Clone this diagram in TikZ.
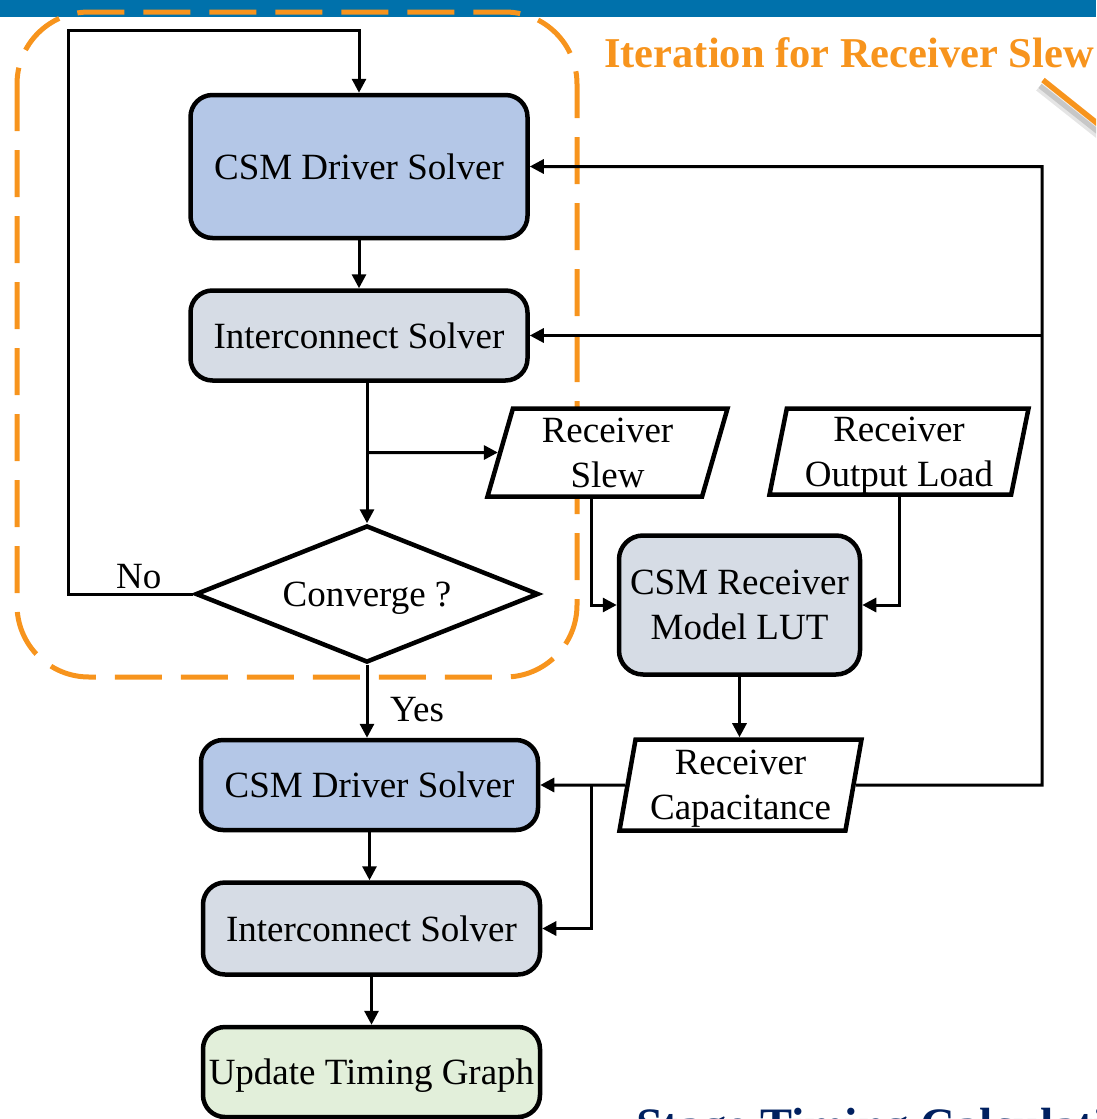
\documentclass[tikz,border=0pt]{standalone}
\usepackage{fontspec}
\setmainfont{Liberation Serif}
\usetikzlibrary{shapes.geometric,arrows.meta,calc}
\definecolor{barblue}{HTML}{0071AB}
\definecolor{iterorange}{HTML}{F7941D}
\definecolor{driverfill}{HTML}{B4C7E7}
\definecolor{solverfill}{HTML}{D6DCE5}
\definecolor{updatefill}{HTML}{E2EFDA}
\definecolor{titlenavy}{HTML}{002060}
\begin{document}
\begin{tikzpicture}[x=1pt,y=-1pt,
  every node/.style={font=\fontsize{37}{45}\selectfont, inner sep=0pt},
  block/.style={draw=black, line width=4.5pt, rounded corners=22pt,
    minimum width=337pt, align=center, text height=25pt, text depth=0pt},
  lutbox/.style={draw=black, line width=4.5pt, rounded corners=24pt, align=center},
  iobox/.style={draw=black, line width=4.5pt, trapezium, trapezium stretches body,
    fill=white, align=center},
  decision/.style={draw=black, line width=4.5pt, diamond, aspect=2.5, fill=white,
    text height=25pt, text depth=0pt},
  arr/.style={line width=3pt, -{Triangle[length=14pt,width=14pt]}},
]
\useasboundingbox (0,0) rectangle (1096,1119);
\clip (0,0) rectangle (1096,1119);

% header bar
\fill[barblue] (0,0) rectangle (1096,17);

% iteration region
\draw[iterorange, line width=5pt, dash pattern=on 47pt off 19pt, rounded corners=72pt]
  (17,12) rectangle (577,677);
\node[anchor=base west, font=\fontsize{42.5}{50}\selectfont\bfseries, text=iterorange]
  (itertitle) at (604,67) {Iteration for Receiver Slew};
\draw[black!40, opacity=0.25, line width=9pt] (1039,87) -- (1111,144);
\draw[black!50, opacity=0.3, line width=5pt] (1040,86) -- (1112,143);
\draw[iterorange, line width=5.5pt] (1043,80) -- (1115,137.6);

% solver blocks
\node[block, fill=driverfill, minimum height=143pt] (drv1) at (359,166.5) {CSM Driver Solver};
\node[block, fill=solverfill, minimum height=90pt] (ic1) at (359,335.5) {Interconnect Solver};
\node[decision, minimum width=343pt, minimum height=137pt] (conv) at (367,594) {Converge ?};

% receiver data
\node[iobox, trapezium left angle=70, trapezium right angle=110,
  minimum width=240pt, minimum height=88pt] (slew) at (607.5,452.5) {Receiver\\Slew};
\node[iobox, trapezium left angle=76, trapezium right angle=104,
  minimum width=259pt, minimum height=86pt] (oload) at (899,451.5) {Receiver\\\smash{Output Load}};
\node[lutbox, fill=solverfill, minimum width=241pt, minimum height=139pt]
  (lut) at (739.5,605) {CSM Receiver\\Model LUT};
\node[iobox, trapezium left angle=77, trapezium right angle=103,
  minimum width=242pt, minimum height=91pt] (cap) at (740.5,785) {Receiver\\\smash{Capacitance}};

% final pass
\node[block, fill=driverfill, minimum height=90pt] (drv2) at (369.5,785) {CSM Driver Solver};
\node[block, fill=solverfill, minimum height=92pt] (ic2) at (371.5,928.5) {Interconnect Solver};
\node[block, fill=updatefill, minimum height=90pt] (upd) at (371.5,1072) {Update Timing Graph};

% branch labels
\node[anchor=base west] (nolbl) at (116,588) {No};
\node[anchor=base west] (yeslbl) at (390,721) {Yes};

% connectors
\coordinate (fbcorner) at (68,30);
\draw[arr] (conv.west) -| (fbcorner) -| (drv1.north);
\draw[arr] (drv1.south) -- (ic1.north);
\draw[arr] (conv.north |- ic1.south) -- (conv.north);
\coordinate (slewtap) at (367,452.5);
\draw[arr] (slewtap) -- (slew);
\draw[arr] ([xshift=-16.5pt]slew.south) |- (lut.west);
\draw[arr] (oload.south) |- (lut.east);
\draw[arr] (lut.south) -- (lut.south |- cap.north);
\draw[arr] (cap) -- (drv2);
\coordinate (captap) at (591,785);
\draw[arr] (captap) |- (ic2.east);
\coordinate (rtcorner) at (1042,785);
\draw[arr] (cap) -- (rtcorner) |- (drv1.east);
\draw[arr] (rtcorner |- ic1.east) -- (ic1.east);
\draw[arr] (conv.south) -- (conv.south |- drv2.north);
\draw[arr] (drv2.south) -- (drv2.south |- ic2.north);
\draw[arr] (ic2.south) -- (ic2.south |- upd.north);

% stage caption
\node[anchor=base west, font=\fontsize{48}{56}\selectfont\bfseries, text=titlenavy]
  (stagetitle) at (636,1141) {Stage Timing Calculation};
\end{tikzpicture}
\end{document}
